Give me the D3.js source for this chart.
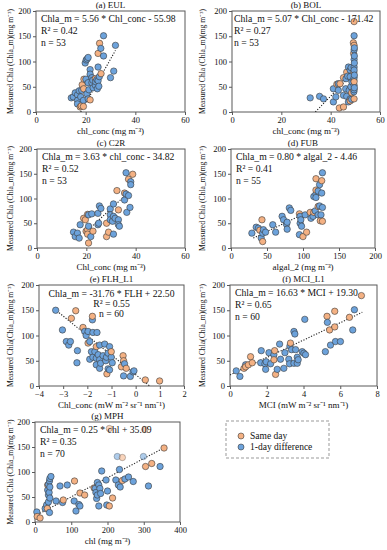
<!DOCTYPE html>
<html><head><meta charset="utf-8">
<script src="https://cdn.jsdelivr.net/npm/d3@7"></script>
<style>body{margin:0;background:#fff}svg{display:block;font-family:"Liberation Serif","Times New Roman",serif}</style>
</head><body><svg id="c" width="387" height="550"></svg>
<script>
// ---------- DATA ----------
const eulSame=[[25.6,136],[25.0,116],[26.2,76],[19.3,65],[23.9,66],[18.6,54],[19.2,46],[21.8,24],[18.2,12],[17.8,10],[19.1,11]];
const eul1Day=[[27.2,151],[32.0,132],[26.1,126],[27.2,111],[21.0,108],[20.2,103],[19.8,97],[20.6,105],[25.0,89],[21.8,84],[21.8,75],[25.5,70],[31.3,81],[30.0,68],[20.1,65],[22.9,63],[24.5,64],[24.0,60],[25.0,62],[21.0,58],[22.5,58],[23.9,53],[25.3,51],[21.3,44],[24.7,46],[17.4,42],[18.4,43],[15.8,38],[16.7,34],[20.5,36],[18.0,30],[15.0,30],[14.2,28],[21.0,26],[16.7,23],[19.1,23],[16.7,16],[22.5,68],[23.0,48]];
const eulTrend=[[18,0],[32,122]];

const bolSame=[[49.5,179],[49.2,137],[49.5,132],[49.3,116],[49.4,79],[49.5,60],[49.5,26],[46.5,79],[45.2,68],[43.8,56],[42.5,55],[48.5,38],[47.9,22],[45.2,10],[43.5,8]];
const bol1Day=[[49.5,151],[49.6,127],[49.5,123],[49.6,111],[49.5,104],[49.6,97],[49.5,89],[49.5,83],[49.6,73],[49.5,68],[49.4,63],[49.5,53],[49.6,48],[49.5,44],[49.4,40],[47.9,83],[47.2,89],[48.3,88],[46.9,71],[47.9,70],[46.2,66],[43.1,56],[41.1,46],[43.1,43],[46.1,46],[47.5,43],[45.2,33],[46.5,31],[47.9,26],[48.5,25],[42.1,30],[41.1,20],[47.2,20],[31.7,28],[35.5,31],[37.1,26],[48.6,60],[48.2,50]];
const bolTrend=[[33.8,0],[50,82]];

const c2rSame=[[38.8,149],[37.1,139],[32.4,116],[35.5,111],[33.0,77],[20.5,68],[28.2,50],[18.9,60],[19.6,57],[20.5,37],[19.9,34],[22.7,34],[20.5,28],[29.0,32],[28.2,23],[20.9,10]];
const c2r1Day=[[36.1,152],[38.0,134],[38.0,128],[36.1,109],[37.1,106],[35.5,97],[37.7,82],[36.4,72],[31.0,89],[25.3,85],[25.9,80],[29.7,79],[22.2,69],[20.9,67],[24.7,70],[29.7,67],[31.0,64],[31.7,60],[29.7,57],[33.0,57],[30.6,54],[25.0,50],[24.7,47],[33.0,47],[33.4,44],[17.5,47],[20.9,44],[14.8,32],[16.4,30],[15.5,23],[17.1,20],[21.8,23],[31.0,28]];
const c2rTrend=[[20.2,34],[36.4,109]];

const fubSame=[[118,140],[126,136],[118,117],[121,84],[115,72],[124,55],[127,54],[95,69],[43,57],[40,36],[44,13],[105,32],[100,23],[110,72]];
const fub1Day=[[127,152],[123,128],[121,115],[118,109],[118,102],[115,104],[126,111],[123,85],[127,82],[117,75],[121,67],[125,67],[114,64],[111,60],[103,67],[96,64],[97,57],[96,50],[98,44],[95,27],[81,81],[83,76],[71,64],[73,57],[78,52],[77,48],[58,47],[78,38],[62,32],[29,30],[35,42],[45,37],[44,30],[48,32],[42,20],[38,40]];
const fubTrend=[[31,20],[127,87]];

const flhSame=[[-2.48,149],[-2.66,134],[-1.79,138],[-2.18,116],[-1.97,85],[-1.63,78],[-1.01,68],[-1.19,24],[-0.59,38],[-0.50,50],[-0.52,60],[-0.39,35],[0.40,12],[0.99,10]];
const flh1Day=[[-3.31,150],[-1.79,131],[-3.03,111],[-2.11,108],[-1.97,108],[-1.77,106],[-1.60,106],[-2.87,88],[-2.70,88],[-2.77,81],[-2.41,70],[-2.43,46],[-1.90,88],[-1.49,81],[-1.28,83],[-1.08,78],[-1.83,68],[-1.69,68],[-1.77,57],[-1.63,55],[-1.90,53],[-1.35,60],[-1.21,57],[-1.14,65],[-1.01,57],[-1.49,52],[-1.24,50],[-0.97,46],[-1.63,42],[-1.45,45],[-1.49,35],[-1.14,34],[-1.08,32],[-0.46,44],[-0.11,28],[-0.07,30],[-0.50,20],[-0.22,19],[-2.05,100],[-1.55,62]];
const flhTrend=[[-3.35,152],[0.58,0]];

const mciSame=[[7.15,179],[5.70,148],[6.50,136],[5.28,138],[5.42,111],[5.70,117],[3.29,85],[2.43,70],[2.39,52],[1.12,58],[1.21,46],[1.00,42],[0.85,38],[0.76,35],[2.48,23]];
const mci1Day=[[6.77,151],[4.07,132],[5.30,126],[6.68,111],[3.48,108],[3.53,103],[6.01,88],[5.74,88],[5.47,81],[5.19,68],[2.70,83],[3.26,79],[2.99,66],[1.70,70],[2.12,66],[3.57,72],[3.35,72],[3.93,68],[4.02,65],[4.11,62],[3.66,57],[3.71,52],[3.66,45],[3.48,45],[3.20,53],[2.75,53],[2.39,62],[3.24,44],[1.97,48],[1.67,46],[1.90,44],[2.21,44],[0.85,42],[1.94,33],[2.57,33],[2.93,35],[0.34,30],[0.54,19]];
const mciTrend=[[0,22],[7.2,146]];

const mphSame=[[356,148],[322,117],[305,111],[241,83],[163,68],[214,48],[205,32],[109,82],[124,58],[137,54],[78,44],[35,74],[34,27],[6,11],[14,8]];
const mph1Day=[[345,111],[313,72],[233,105],[258,90],[248,86],[223,84],[230,74],[235,70],[271,81],[184,102],[196,84],[172,79],[176,74],[179,67],[166,67],[168,59],[181,57],[172,54],[170,47],[200,62],[198,34],[176,32],[108,42],[121,35],[124,32],[113,22],[89,74],[69,72],[76,39],[58,42],[41,87],[44,91],[40,82],[37,75],[41,70],[35,64],[39,59],[37,54],[41,48],[37,40],[32,34],[28,27],[40,19],[5,20]];
const mphSameFaded=[[205,187],[303,185],[241,129]];
const mph1DayFaded=[[227,131],[299,131]];
const mphTrend=[[0,12],[355,148]];

const yTicks=[0,50,100,150,200];
const legendLabels=["Same day","1-day difference"];

// ---------- LAYOUT ----------
const FONT="Liberation Serif";
const ORANGE="#F4B183", BLUE="#6CA2DB", FRAME="#595959";
const yLab1="Measured Chla (Chla_m)(mg m\u207B\u00B3)";
const yLab2="Measured Chla(Chla_m)(mg m\u207B\u00B3)";
const panels=[
 {title:"(a) EUL",r:[36,185,11,112],xd:[0,60],xt:[0,20,40,60],xl:"chl_conc (mg m\u207B\u00B3)",yl:yLab1,ylx:10,
  eq:["Chla_m = 5.56 * Chl_conc - 55.98","R\u00B2 = 0.42","n = 53"],same:eulSame,one:eul1Day,trend:eulTrend},
 {title:"(b) BOL",r:[232,380,11,112],xd:[0,60],xt:[0,20,40,60],xl:"chl_conc (mg m\u207B\u00B3)",yl:yLab1,ylx:202,
  eq:["Chla_m = 5.07 * Chl_conc - 171.42","R\u00B2 = 0.27","n = 53"],same:bolSame,one:bol1Day,trend:bolTrend,eqx:2},
 {title:"(c) C2R",r:[37,185,149,248],xd:[0,60],xt:[0,20,40,60],xl:"Chl_conc (mg m\u207B\u00B3)",yl:yLab1,ylx:10,
  eq:["Chla_m = 3.63 * chl_conc - 34.82","R\u00B2 = 0.52","n = 53"],same:c2rSame,one:c2r1Day,trend:c2rTrend},
 {title:"(d) FUB",r:[231,375,149,248],xd:[0,200],xt:[0,50,100,150,200],xl:"algal_2 (mg m\u207B\u00B3)",yl:yLab1,ylx:202,
  eq:["Chla_m = 0.80 * algal_2 - 4.46","R\u00B2 = 0.41","n = 55"],same:fubSame,one:fub1Day,trend:fubTrend},
 {title:"(e) FLH_L1",r:[39,184,285,386],xd:[-4,2],xt:[-4,-3,-2,-1,0,1,2],xl:"Chl_conc (mW m\u207B\u00B2 sr\u207B\u00B9 nm\u207B\u00B9)",yl:yLab2,ylx:10,
  eq:["Chla_m = -31.76 * FLH + 22.50","R\u00B2 = 0.55","n = 60"],same:flhSame,one:flh1Day,trend:flhTrend,center:true},
 {title:"(f) MCI_L1",r:[230,377,285,386],xd:[0,8],xt:[0,2,4,6,8],xl:"MCI (mW m\u207B\u00B2 sr\u207B\u00B9 nm\u207B\u00B9)",yl:yLab2,ylx:202,
  eq:["Chla_m = 16.63 * MCI + 19.30","R\u00B2 = 0.65","n = 60"],same:mciSame,one:mci1Day,trend:mciTrend},
 {title:"(g) MPH",r:[35,180,422,522],xd:[0,400],xt:[0,100,200,300,400],xl:"chl (mg m\u207B\u00B3)",yl:yLab1,ylx:10,
  eq:["Chla_m = 0.25 * chl + 35.09","R\u00B2 = 0.35","n = 70"],same:mphSame,one:mph1Day,trend:mphTrend,
  fadedSame:mphSameFaded,fadedOne:mph1DayFaded}
];

const svg=d3.select("#c");

panels.forEach((p,i)=>{
  const [x0,x1,y0,y1]=p.r;
  const x=d3.scaleLinear().domain(p.xd).range([x0,x1]);
  const y=d3.scaleLinear().domain([0,200]).range([y1,y0]);
  const g=svg.append("g").attr("font-family",FONT);
  const cid="clip"+i;
  svg.append("defs").append("clipPath").attr("id",cid).append("rect")
    .attr("x",x0).attr("y",y0).attr("width",x1-x0).attr("height",y1-y0);

  // axes
  const xa=g.append("g").attr("transform",`translate(0,${y1})`)
    .call(d3.axisBottom(x).tickValues(p.xt).tickSize(3).tickPadding(2).tickFormat(d3.format("d")));
  const ya=g.append("g").attr("transform",`translate(${x0},0)`)
    .call(d3.axisLeft(y).tickValues(yTicks).tickSize(3).tickPadding(2));
  [xa,ya].forEach(a=>{a.attr("font-family",FONT); a.select(".domain").remove();
    a.selectAll("line").attr("stroke",FRAME);
    a.selectAll("text").attr("font-size",8.5).attr("fill","#111");});

  // frame
  g.append("rect").attr("x",x0).attr("y",y0).attr("width",x1-x0).attr("height",y1-y0)
    .attr("fill","none").attr("stroke",FRAME).attr("stroke-width",1);

  // trend line
  g.append("line").attr("clip-path",`url(#${cid})`)
    .attr("x1",x(p.trend[0][0])).attr("y1",y(p.trend[0][1]))
    .attr("x2",x(p.trend[1][0])).attr("y2",y(p.trend[1][1]))
    .attr("stroke","#222").attr("stroke-width",1.1).attr("stroke-dasharray","1.2,1.6");

  // points
  const pts=[];
  p.one.forEach(d=>pts.push({d,c:BLUE,o:1}));
  p.same.forEach(d=>pts.push({d,c:ORANGE,o:1}));
  if(p.fadedOne) p.fadedOne.forEach(d=>pts.push({d,c:BLUE,o:0.55}));
  if(p.fadedSame) p.fadedSame.forEach(d=>pts.push({d,c:ORANGE,o:0.55}));
  pts.sort((a,b)=>a.d[0]-b.d[0]);
  g.append("g").selectAll("circle").data(pts).join("circle")
    .attr("cx",d=>x(d.d[0])).attr("cy",d=>y(d.d[1])).attr("r",3.2)
    .attr("fill",d=>d.c).attr("fill-opacity",d=>d.o)
    .attr("stroke","#3a3a3a").attr("stroke-opacity",d=>d.o).attr("stroke-width",0.6);

  // equation text
  const t=g.append("g").attr("font-size",9.7).attr("fill","#111");
  p.eq.forEach((s,k)=>{
    if(p.center){
      t.append("text").attr("x",(x0+x1)/2).attr("y",y0+12+k*10).attr("text-anchor","middle").text(s);
    } else {
      t.append("text").attr("x",x0+(p.eqx||5)).attr("y",y0+11+k*12).text(s);
    }
  });

  // title
  g.append("text").attr("x",(x0+x1)/2).attr("y",y0-3).attr("text-anchor","middle")
    .attr("font-size",9).attr("fill","#111").text(p.title);
  // x label
  g.append("text").attr("x",(x0+x1)/2).attr("y",y1+22).attr("text-anchor","middle")
    .attr("font-size",9).attr("fill","#111").text(p.xl);
  // y label
  g.append("text").attr("transform",`translate(${p.ylx+3},${(y0+y1)/2}) rotate(-90)`)
    .attr("text-anchor","middle").attr("font-size",7.6).attr("fill","#111").text(p.yl);
});

// legend
const lg=svg.append("g").attr("font-family",FONT);
lg.append("rect").attr("x",226).attr("y",421).attr("width",103).attr("height",37)
  .attr("fill","none").attr("stroke","#999").attr("stroke-width",1).attr("stroke-dasharray","3,2");
[ORANGE,BLUE].forEach((c,k)=>{
  lg.append("circle").attr("cx",241).attr("cy",436+k*11).attr("r",3).attr("fill",c)
    .attr("stroke","#3a3a3a").attr("stroke-width",0.6);
  lg.append("text").attr("x",250).attr("y",439+k*11).attr("font-size",9.5).attr("fill","#111").text(legendLabels[k]);
});
</script></body></html>
